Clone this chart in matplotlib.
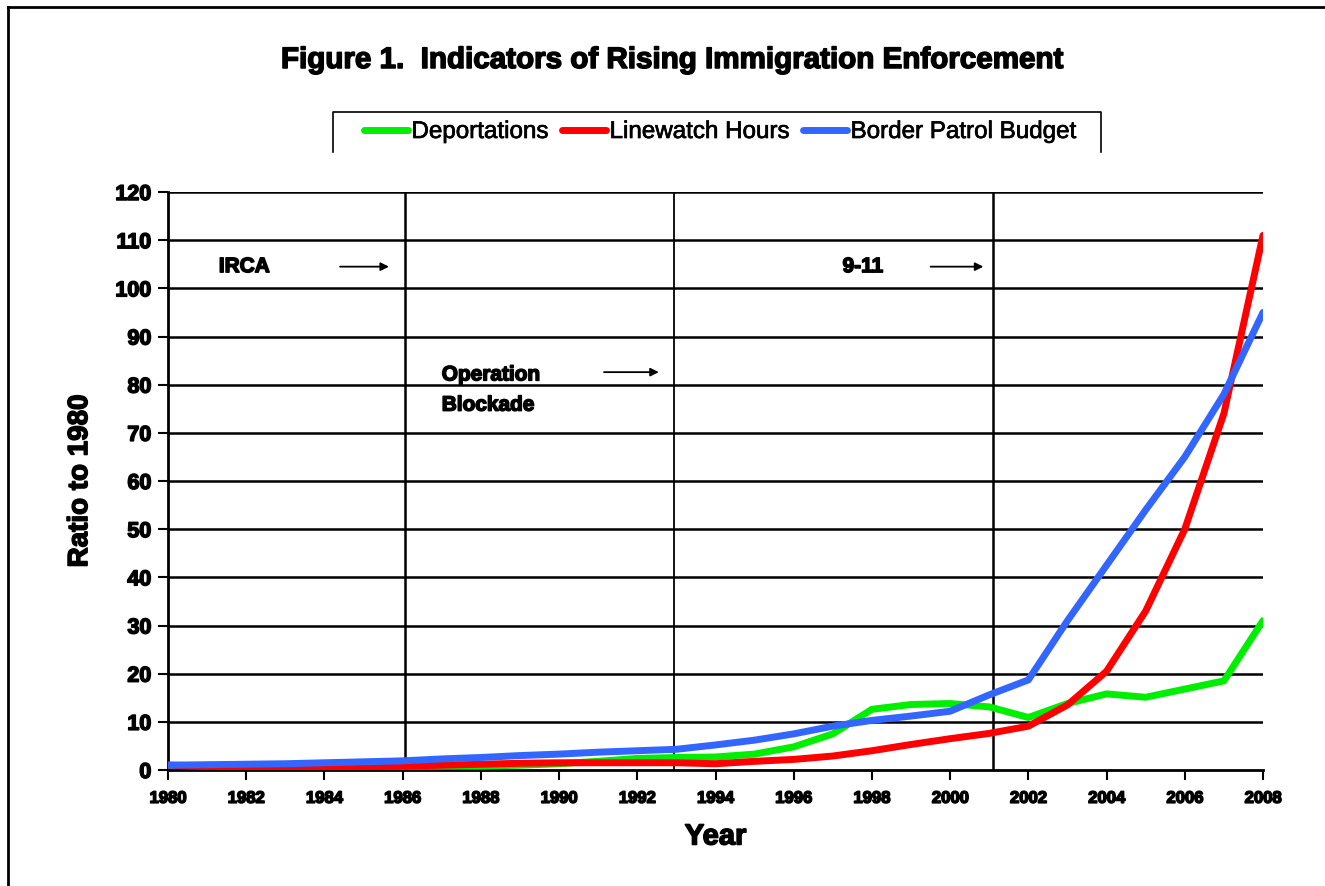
import matplotlib
matplotlib.use("Agg")
import matplotlib.pyplot as plt
import matplotlib.patheffects as pe
from matplotlib.lines import Line2D

years = list(range(1980, 2009))

deportations = [1.0, 0.9, 0.8, 0.8, 0.8, 0.8, 0.8, 0.8, 0.8, 1.0, 1.3, 1.8, 2.4, 2.6,
                2.7, 3.3, 4.8, 7.5, 12.6, 13.6, 13.8, 13.1, 10.9, 13.8, 15.8, 15.1,
                16.8, 18.5, 31.0]
linewatch = [1.0, 0.7, 0.6, 0.6, 0.6, 0.7, 0.8, 1.0, 1.2, 1.4, 1.5, 1.5, 1.5, 1.5,
             1.3, 1.8, 2.2, 2.9, 4.0, 5.3, 6.5, 7.6, 9.1, 13.5, 20.5, 33.0,
             50.0, 74.0, 111.0]
budget = [1.0, 1.1, 1.2, 1.3, 1.5, 1.7, 1.9, 2.3, 2.6, 3.0, 3.3, 3.7, 4.0, 4.3,
          5.2, 6.2, 7.5, 9.1, 10.3, 11.2, 12.2, 15.6, 18.7, 31.0, 42.5, 54.0,
          65.0, 78.0, 95.0]

series_names = ["Deportations", "Linewatch Hours", "Border Patrol Budget"]
series_colors = ["#00ee00", "#ff0000", "#3366ff"]

events = [1986.05, 1992.95, 2001.1]
event_labels = ["IRCA", "Operation\nBlockade", "9-11"]
event_label_pos = [(1981.3, 104.5), (1987.0, 84.0), (1997.25, 104.5)]
arrow_x = [(1984.4, 1985.65), (1991.15, 1992.55), (1999.5, 2000.85)]
arrow_y = [104.5, 82.6, 104.5]

heavy = [pe.withStroke(linewidth=1.1, foreground="black")]
bold = dict(family="Liberation Sans", weight="bold")

fig = plt.figure(figsize=(13.25, 8.86), dpi=100)
ax = fig.add_axes([168 / 1325, 1 - 770 / 886, 1095 / 1325, 578 / 886])

for vals, name, col in zip([deportations, linewatch, budget], series_names, series_colors):
    ax.plot(years, vals, color=col, lw=5, label=name, solid_capstyle="round",
            solid_joinstyle="round", zorder=3)

for yv in range(10, 130, 10):
    ax.axhline(yv, color="black", lw=1.8, zorder=1)
for i, ev in enumerate(events):
    ax.axvline(ev, color="black", lw=1.8 if i != 1 else 1.3, zorder=2)

# annotations
for (tx, ty), lab, (x0, x1), ay in zip(event_label_pos, event_labels, arrow_x, arrow_y):
    t = ax.text(tx, ty, lab, fontsize=15, va="center" if "\n" not in lab else "top",
                ha="left", linespacing=1.75, **bold)
    t.set_path_effects(heavy)
    ax.annotate("", xy=(x1, ay), xytext=(x0, ay),
                arrowprops=dict(arrowstyle="-|>", color="black", lw=1.3,
                                mutation_scale=12, shrinkA=0, shrinkB=0))

ax.set_xlim(1980, 2008)
ax.set_ylim(0, 120)
ax.set_xticks(range(1980, 2009, 2))
ax.set_yticks(range(0, 130, 10))
for lab in ax.get_xticklabels():
    lab.set_fontproperties(dict(family="Liberation Sans", weight="bold", size=12))
    lab.set_path_effects(heavy)
for lab in ax.get_yticklabels():
    lab.set_fontproperties(dict(family="Liberation Sans", weight="bold", size=15.5))
    lab.set_path_effects(heavy)
ax.tick_params(axis="both", direction="out", length=7, width=1.5, color="black")
ax.tick_params(axis="x", pad=8)
ax.tick_params(axis="y", pad=5)

for s in ["top", "right"]:
    ax.spines[s].set_visible(False)
for s in ["left", "bottom"]:
    ax.spines[s].set_linewidth(2)

xl = ax.set_xlabel("Year", fontsize=21, labelpad=12, **bold)
yl = ax.set_ylabel("Ratio to 1980", fontsize=20, labelpad=16, **bold)
xl.set_path_effects(heavy)
yl.set_path_effects(heavy)

title = fig.text(0.508, 1 - 60 / 886, "Figure 1.  Indicators of Rising Immigration Enforcement",
                 ha="center", va="center", fontsize=21.3, **bold)
title.set_path_effects(heavy)

leg = fig.legend(loc="center", bbox_to_anchor=(720 / 1325, 1 - 132 / 886), ncol=3,
                 frameon=False, handlelength=1.8, handletextpad=0.15,
                 columnspacing=0.6, prop=dict(family="Liberation Sans", size=17.4))
for h in leg.get_lines():
    h.set_linewidth(5)
for t in leg.get_texts():
    t.set_path_effects([pe.withStroke(linewidth=0.5, foreground="black")])

# legend box: top, left and right edges only
fig.add_artist(Line2D([333 / 1325, 333 / 1325, 1101 / 1325, 1101 / 1325],
                      [1 - 152 / 886, 1 - 112 / 886, 1 - 112 / 886, 1 - 152 / 886],
                      color="black", lw=1.2, transform=fig.transFigure))

# outer frame (top and left edges)
fig.add_artist(Line2D([8 / 1325, 8 / 1325], [0, 1 - 7 / 886], color="black", lw=2,
                      transform=fig.transFigure))
fig.add_artist(Line2D([8 / 1325, 1], [1 - 7 / 886, 1 - 7 / 886], color="black", lw=2,
                      transform=fig.transFigure))

fig.savefig("out.png", dpi=100, facecolor="white")
